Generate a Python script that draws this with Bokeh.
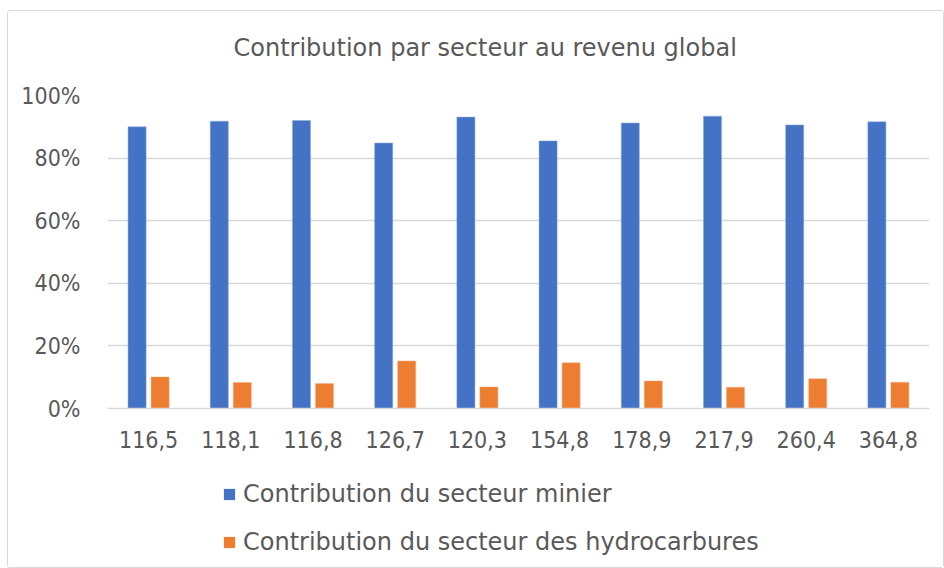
from bokeh.plotting import figure
from bokeh.layouts import column
from bokeh.models import (FactorRange, Range1d, NumeralTickFormatter, Legend, LegendItem,
                          FixedTicker, ColumnDataSource)
from bokeh.transform import dodge
from bokeh.embed import file_html
from bokeh.resources import INLINE

categories = ["116,5", "118,1", "116,8", "126,7", "120,3", "154,8", "178,9", "217,9", "260,4", "364,8"]
minier = [0.900, 0.918, 0.920, 0.848, 0.931, 0.855, 0.912, 0.934, 0.906, 0.916]
hydro = [0.101, 0.083, 0.080, 0.152, 0.069, 0.146, 0.088, 0.068, 0.095, 0.084]
series_names = ["Contribution du secteur minier", "Contribution du secteur des hydrocarbures"]
title_text = "Contribution par secteur au revenu global"

TICK_FONT = "DejaVu Sans Condensed"
FONT = "DejaVu Sans"
TXT = "#595959"
BLUE = "#4472C4"
ORANGE = "#ED7D31"

src = ColumnDataSource(dict(cat=categories, minier=minier, hydro=hydro))

W = 935
ML, MR = 99, 14


def bare(fig):
    fig.xaxis.visible = False
    fig.yaxis.visible = False
    fig.grid.visible = False
    fig.outline_line_color = None
    fig.border_fill_color = "white"
    fig.background_fill_color = "white"


# title strip
t = figure(width=W, height=60, output_backend="svg", toolbar_location=None,
           x_range=Range1d(0, 1), y_range=Range1d(0, 1),
           min_border_left=ML, min_border_right=MR, min_border_top=59, min_border_bottom=0,
           title=title_text)
bare(t)
t.title.align = "left"
t.title.offset = 126
t.title.text_font = FONT
t.title.text_font_size = "24px"
t.title.text_font_style = "normal"
t.title.text_color = TXT
t.title.standoff = 18

# main chart
p = figure(x_range=FactorRange(*categories, range_padding=0), y_range=Range1d(0, 1),
           width=W, height=400, output_backend="svg", toolbar_location=None,
           min_border_left=ML, min_border_right=MR, min_border_top=24, min_border_bottom=63)

p.vbar(x=dodge("cat", -0.14, range=p.x_range), top="minier", width=0.22, source=src,
       fill_color=BLUE, line_color="#8faadc", line_width=0.5)
p.vbar(x=dodge("cat", 0.14, range=p.x_range), top="hydro", width=0.22, source=src,
       fill_color=ORANGE, line_color="#f4b183", line_width=0.5)

p.outline_line_color = None
p.background_fill_color = "white"
p.border_fill_color = "white"

p.xgrid.grid_line_color = None
p.ygrid.grid_line_color = "#d9d9d9"
p.ygrid.grid_line_width = 1.5

p.yaxis.ticker = FixedTicker(ticks=[0, 0.2, 0.4, 0.6, 0.8, 1.0])
p.yaxis.formatter = NumeralTickFormatter(format="0%")
p.yaxis.axis_line_color = None
p.yaxis.major_tick_line_color = None
p.yaxis.minor_tick_line_color = None
p.yaxis.major_label_standoff = 21
p.yaxis.major_label_text_font = TICK_FONT
p.yaxis.major_label_text_font_size = "23px"
p.yaxis.major_label_text_color = TXT

p.xaxis.axis_line_color = "#d9d9d9"
p.xaxis.axis_line_width = 1.5
p.xaxis.major_tick_line_color = None
p.xaxis.minor_tick_line_color = None
p.xaxis.major_label_standoff = 16
p.xaxis.major_label_text_font = TICK_FONT
p.xaxis.major_label_text_font_size = "23px"
p.xaxis.major_label_text_color = TXT

# legend strip below the chart (same series, drawn outside its visible range)
q = figure(width=W, height=96, output_backend="svg", toolbar_location=None,
           x_range=FactorRange(*categories, range_padding=0), y_range=Range1d(5, 6),
           min_border_left=ML, min_border_right=MR, min_border_top=0, min_border_bottom=0)
bare(q)
l1 = q.vbar(x=dodge("cat", -0.14, range=q.x_range), top="minier", width=0.22, source=src,
            fill_color=BLUE, line_color=None)
l2 = q.vbar(x=dodge("cat", 0.14, range=q.x_range), top="hydro", width=0.22, source=src,
            fill_color=ORANGE, line_color=None)
legend = Legend(items=[LegendItem(label=series_names[0], renderers=[l1], index=0),
                       LegendItem(label=series_names[1], renderers=[l2], index=0)],
                location=(115, 11), orientation="vertical",
                padding=0, margin=0, spacing=20, glyph_width=14, glyph_height=14,
                label_height=24, label_standoff=7,
                label_text_font=FONT, label_text_font_size="24px", label_text_color=TXT,
                border_line_color=None, background_fill_alpha=0)
q.add_layout(legend, "center")

layout = column(t, p, q, spacing=0)
layout.styles = {"border": "1px solid #d9d9d9", "border-radius": "3px",
                 "margin-left": "7px", "margin-top": "10px", "gap": "0px"}

open("out.html", "w").write(file_html(layout, INLINE))
